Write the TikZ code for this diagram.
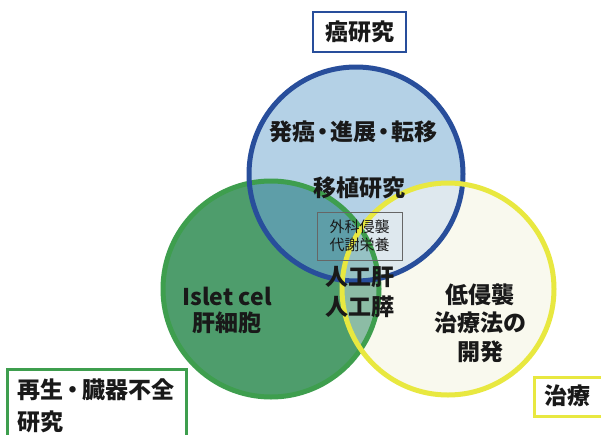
\documentclass[tikz,border=0pt]{standalone}
\usepackage{fontspec}
\setmainfont{Noto Sans CJK JP}
\definecolor{cBlueFill}{RGB}{180,209,230}
\definecolor{cGreenFill}{RGB}{78,157,108}
\definecolor{cYellowFill}{RGB}{249,249,238}
\definecolor{cBG}{RGB}{94,158,168}
\definecolor{cGY}{RGB}{140,188,165}
\definecolor{cBY}{RGB}{222,232,238}
\definecolor{cBGY}{RGB}{150,194,196}
\definecolor{cBlue}{RGB}{40,78,155}
\definecolor{cGreen}{RGB}{62,158,78}
\definecolor{cYellow}{RGB}{232,232,64}
\definecolor{cText}{RGB}{25,25,25}
\newcommand{\ndot}{\kern-4pt・\kern-4pt}
\tikzset{
  lbl/.style={font=\fontsize{23}{29}\selectfont\bfseries, text=cText, align=center, inner sep=0pt},
  smallbox/.style={draw=black!60, line width=1pt, minimum width=85pt, minimum height=48pt, inner sep=0pt,
    font=\fontsize{15}{20}\selectfont, text=black!90, align=center},
  tagbox/.style={line width=2.6pt, fill=white, inner sep=0pt},
  ring/.style={line width=5pt}
}
\begin{document}
\begin{tikzpicture}[x=1pt,y=-1pt]
\useasboundingbox (0,0) rectangle (601,434);
\fill[white] (0,0) rectangle (601,434);
\def\Bc{(356,174) circle[radius=107pt]}
\def\Gc{(271,289) circle[radius=108pt]}
\def\Yc{(448,289) circle[radius=106pt]}
% fills
\fill[cYellowFill] \Yc;
\fill[cBlueFill] \Bc;
\fill[cGreenFill] \Gc;
\begin{scope}\clip \Yc; \fill[cBY] \Bc; \end{scope}
\begin{scope}\clip \Yc; \fill[cGY] \Gc; \end{scope}
\begin{scope}\clip \Bc; \fill[cBG] \Gc; \end{scope}
\begin{scope}\clip \Bc; \clip \Yc; \fill[cBGY] \Gc; \end{scope}
% strokes
\draw[ring, cGreen] \Gc;
\draw[ring, cBlue] \Bc;
\draw[ring, cYellow] \Yc;
% labels
\node[lbl] (t1) at (353,132) {発癌\ndot 進展\ndot 転移};
\node[lbl] (t2) at (359,188) {移植研究};
\node[smallbox] (t3) at (359.5,236) {外科侵襲\\[-2pt]代謝栄養};
\node[lbl, font=\fontsize{23}{30}\selectfont\bfseries] (t4) at (360,292) {人工肝\\人工膵};
\node[lbl, font=\fontsize{23}{26}\selectfont\bfseries] (t5) at (227,310) {Islet cel\\肝細胞};
\node[lbl, font=\fontsize{23}{28.5}\selectfont\bfseries] (t6) at (480,323) {低侵襲\\治療法の\\開発};
% tag boxes
\node[tagbox, draw=cBlue, minimum width=93pt, minimum height=40pt, lbl] (b1) at (359.5,32) {癌研究};
\node[tagbox, draw=cGreen, minimum width=179pt, minimum height=80pt, anchor=north west] (b2) at (6,368) {};
\node[lbl, anchor=west] (b2a) at (17,390) {再生\kern-2pt・\kern-2pt 臓器不全};
\node[lbl, anchor=west] (b2b) at (17,422) {研究};
\node[tagbox, draw=cYellow, minimum width=74pt, minimum height=39pt, anchor=north west] (b3) at (533,376) {};
\node[lbl] (b3a) at (567,395.5) {治療};
\end{tikzpicture}
\end{document}
